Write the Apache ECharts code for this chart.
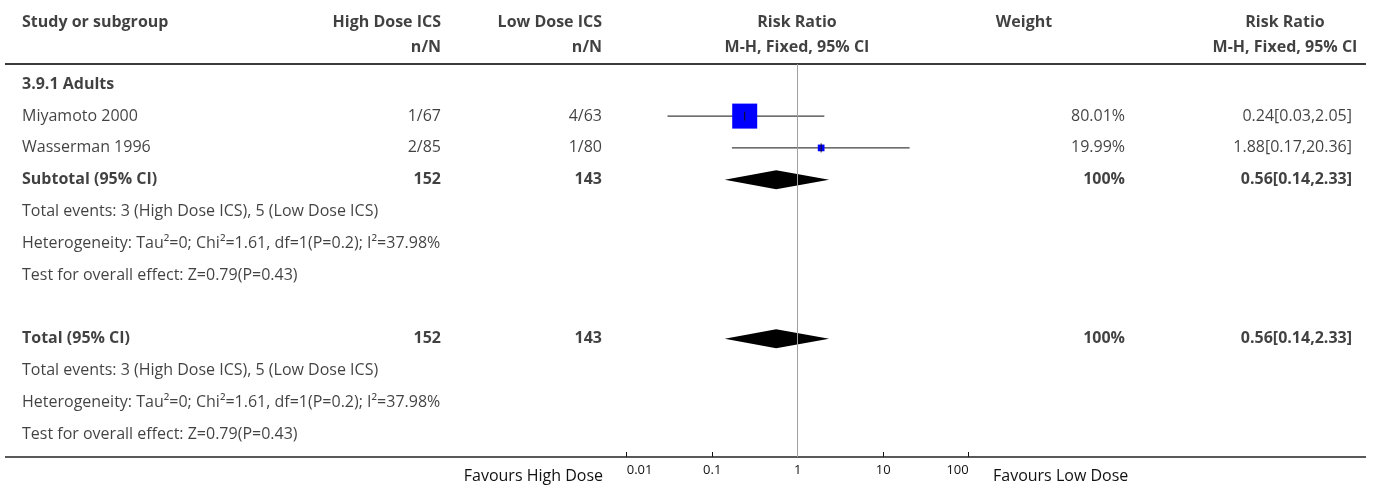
<!DOCTYPE html>
<html>
<head>
<meta charset="utf-8">
<script src="https://cdn.jsdelivr.net/npm/echarts@6/dist/echarts.min.js"></script>
<style>
  html, body { margin: 0; padding: 0; background: #ffffff; }
  #chart { width: 1373px; height: 486px; }
</style>
</head>
<body>
<div id="chart"></div>
<script>
// ---------- data ----------
const studyNames      = ['Miyamoto 2000', 'Wasserman 1996'];
const highDoseEvents  = [1, 2];
const highDoseTotals  = [67, 85];
const lowDoseEvents   = [4, 1];
const lowDoseTotals   = [63, 80];
const riskRatios      = [0.24, 1.88];
const ciLower         = [0.03, 0.17];
const ciUpper         = [2.05, 20.36];
const studyWeights    = [80.01, 19.99];

const subgroupTitle   = '3.9.1 Adults';
const pooledEstimate  = [0.56, 0.14, 2.33];   // RR, lower, upper
const pooledTotals    = [152, 143];            // high dose N, low dose N
const pooledWeight    = 100;
const summaryLines    = [
  'Total events: 3 (High Dose ICS), 5 (Low Dose ICS)',
  'Heterogeneity: Tau\u00b2=0; Chi\u00b2=1.61, df=1(P=0.2); I\u00b2=37.98%',
  'Test for overall effect: Z=0.79(P=0.43)'
];
const headerTop       = ['Study or subgroup', 'High Dose ICS', 'Low Dose ICS', 'Risk Ratio', 'Weight', 'Risk Ratio'];
const headerBottom    = ['', 'n/N', 'n/N', 'M-H, Fixed, 95% CI', '', 'M-H, Fixed, 95% CI'];
const axisTickValues  = [0.01, 0.1, 1, 10, 100];
const favourLabels    = ['Favours High Dose', 'Favours Low Dose'];

// ---------- layout ----------
const W = 1373, H = 486;
const ROW0 = 84.3, ROWH = 31.8;          // pixel centre of first table row, row pitch
const RULE_TOP = 64, RULE_BOTTOM = 457;
const PLOT_LEFT = 626.7, PLOT_RIGHT = 968.7;
const HEADER_Y = [22, 47];
const COL = { study: 22, high: 441, low: 602, plot: 797, weightHead: 1024, weight: 1125, rrHead: 1285, rr: 1352 };
const FONT = '"Open Sans", "Noto Sans", sans-serif';
const FS = 16;
const INK = '#111111';

const toRow = y => (y - ROW0) / ROWH;
const fmt = v => String(v);
const rrText = (e, l, u) => fmt(e) + '[' + fmt(l) + ',' + fmt(u) + ']';

// ---------- table cells ----------
const cells = [];
function cell(x, row, text, align, bold) { cells.push({ value: [x, row], text, align, bold: !!bold }); }

// headers
const headX = [COL.study, COL.high, COL.low, COL.plot, COL.weightHead, COL.rrHead];
const headAlign = ['left', 'right', 'right', 'center', 'center', 'center'];
headerTop.forEach((t, i) => t && cell(headX[i], toRow(HEADER_Y[0]), t, headAlign[i], true));
headerBottom.forEach((t, i) => t && cell(headX[i], toRow(HEADER_Y[1]), t, headAlign[i], true));

// subgroup block
let r = 0;
cell(COL.study, r++, subgroupTitle, 'left', true);
const studyRows = [];
studyNames.forEach((name, i) => {
  studyRows.push(r);
  cell(COL.study, r, name, 'left');
  cell(COL.high, r, highDoseEvents[i] + '/' + highDoseTotals[i], 'right');
  cell(COL.low, r, lowDoseEvents[i] + '/' + lowDoseTotals[i], 'right');
  cell(COL.weight, r, studyWeights[i].toFixed(2) + '%', 'right');
  cell(COL.rr, r, rrText(riskRatios[i], ciLower[i], ciUpper[i]), 'right');
  r++;
});
const pooledRows = [];
function pooledBlock(label) {
  pooledRows.push(r);
  cell(COL.study, r, label, 'left', true);
  cell(COL.high, r, String(pooledTotals[0]), 'right', true);
  cell(COL.low, r, String(pooledTotals[1]), 'right', true);
  cell(COL.weight, r, pooledWeight + '%', 'right', true);
  cell(COL.rr, r, rrText(pooledEstimate[0], pooledEstimate[1], pooledEstimate[2]), 'right', true);
  r++;
  summaryLines.forEach(t => cell(COL.study, r++, t, 'left'));
}
pooledBlock('Subtotal (95% CI)');
r++; // blank spacer row
pooledBlock('Total (95% CI)');

// ---------- forest marks ----------
const forestData = [];
studyNames.forEach((_, i) => forestData.push([riskRatios[i], ciLower[i], ciUpper[i], studyRows[i], studyWeights[i], 0]));
pooledRows.forEach(row => forestData.push([pooledEstimate[0], pooledEstimate[1], pooledEstimate[2], row, pooledWeight, 1]));

function renderForest(params, api) {
  const est = api.value(0), lo = api.value(1), hi = api.value(2), row = api.value(3), w = api.value(4), kind = api.value(5);
  const pe = api.coord([est, row]);
  const pl = api.coord([lo, row]);
  const ph = api.coord([hi, row]);
  if (kind === 1) {
    const hh = 9.5;
    return {
      type: 'polygon',
      shape: { points: [[pl[0], pe[1]], [pe[0], pe[1] - hh], [ph[0], pe[1]], [pe[0], pe[1] + hh]] },
      style: { fill: '#000000', stroke: null }
    };
  }
  const side = Math.max(6.7, 0.3125 * w);
  return {
    type: 'group',
    children: [
      { type: 'line', shape: { x1: pl[0], y1: pe[1], x2: ph[0], y2: pe[1] }, style: { stroke: '#111111', lineWidth: 1 } },
      { type: 'rect', shape: { x: pe[0] - side / 2, y: pe[1] - side / 2, width: side, height: side }, style: { fill: '#0000ff' } },
      { type: 'line', shape: { x1: pe[0], y1: pe[1] - 4.5, x2: pe[0], y2: pe[1] + 4.5 }, style: { stroke: '#111111', lineWidth: 1 } }
    ]
  };
}

// ---------- chart ----------
const chart = echarts.init(document.getElementById('chart'), null, { renderer: 'canvas' });

chart.setOption({
  animation: false,
  backgroundColor: '#ffffff',
  textStyle: { fontFamily: FONT },
  grid: [
    { left: 0, right: 0, top: 0, bottom: 0 },
    { left: PLOT_LEFT, right: W - PLOT_RIGHT, top: RULE_TOP, bottom: H - RULE_BOTTOM }
  ],
  xAxis: [
    { gridIndex: 0, type: 'value', min: 0, max: W, show: false },
    {
      gridIndex: 1, type: 'log', logBase: 10, position: 'bottom',
      min: axisTickValues[0], max: axisTickValues[axisTickValues.length - 1],
      splitNumber: axisTickValues.length - 1,
      axisLine: { show: false, onZero: false },
      axisTick: { show: true, inside: true, length: 5, lineStyle: { color: INK, width: 1 } },
      splitLine: { show: false },
      axisLabel: {
        show: true, fontSize: 13, color: INK, margin: 7, fontFamily: FONT,
        alignMinLabel: 'left', alignMaxLabel: 'right',
        formatter: v => String(+v.toPrecision(3))
      }
    }
  ],
  yAxis: [
    { gridIndex: 0, type: 'value', inverse: true, min: toRow(0), max: toRow(H), show: false },
    { gridIndex: 1, type: 'value', inverse: true, min: toRow(RULE_TOP), max: toRow(RULE_BOTTOM), show: false }
  ],
  graphic: [
    { type: 'line', shape: { x1: 5, y1: RULE_TOP, x2: 1366, y2: RULE_TOP }, style: { stroke: '#3a3a3a', lineWidth: 2 }, z: 1 },
    { type: 'line', shape: { x1: 5, y1: RULE_BOTTOM, x2: 1366, y2: RULE_BOTTOM }, style: { stroke: '#222222', lineWidth: 1.6 }, z: 1 },
    { type: 'text', x: 603, y: 476, style: { text: favourLabels[0], font: FS + 'px ' + FONT, fill: INK, textAlign: 'right', textVerticalAlign: 'middle' } },
    { type: 'text', x: 993, y: 476, style: { text: favourLabels[1], font: FS + 'px ' + FONT, fill: INK, textAlign: 'left', textVerticalAlign: 'middle' } }
  ],
  series: [
    {
      type: 'scatter',
      xAxisIndex: 0, yAxisIndex: 0,
      symbolSize: 1,
      clip: false,
      silent: true,
      itemStyle: { color: 'rgba(0,0,0,0)' },
      data: cells.map(c => ({
        value: c.value,
        label: {
          show: true, position: 'inside', formatter: c.text,
          align: c.align, verticalAlign: 'middle',
          fontSize: FS, fontFamily: FONT, color: INK,
          fontWeight: c.bold ? 'bold' : 'normal'
        }
      }))
    },
    {
      type: 'custom',
      xAxisIndex: 1, yAxisIndex: 1,
      clip: false,
      silent: true,
      renderItem: renderForest,
      encode: { x: [0, 1, 2], y: 3 },
      data: forestData,
      z: 3,
      markLine: {
        silent: true,
        symbol: ['none', 'none'],
        label: { show: false },
        lineStyle: { color: '#a0a0a0', width: 1, type: 'solid' },
        data: [{ xAxis: 1 }],
        z: 4
      }
    }
  ]
});
</script>
</body>
</html>
